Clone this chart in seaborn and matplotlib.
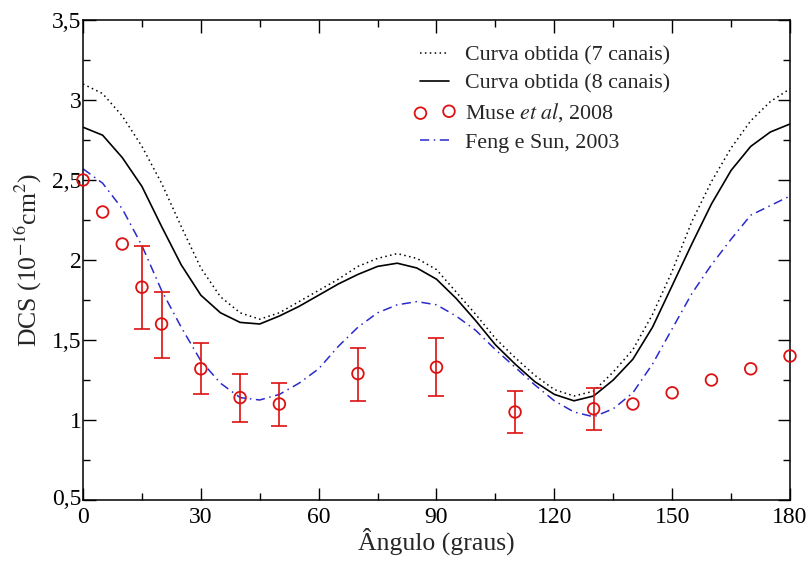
import numpy as np
import pandas as pd
import matplotlib
matplotlib.use("Agg")
import matplotlib.pyplot as plt
import matplotlib.transforms as mtransforms
import seaborn as sns
from matplotlib.ticker import MultipleLocator, FuncFormatter

# ---- data ----
angles = list(range(0, 181, 5))
curva7 = [3.10, 3.04, 2.90, 2.71, 2.48, 2.21, 1.95, 1.77, 1.67, 1.63, 1.67, 1.74, 1.81,
          1.88, 1.96, 2.01, 2.04, 2.01, 1.94, 1.80, 1.66, 1.51, 1.39, 1.28, 1.19, 1.15,
          1.18, 1.30, 1.44, 1.66, 1.93, 2.24, 2.49, 2.70, 2.87, 2.99, 3.07]
curva8 = [2.83, 2.78, 2.64, 2.46, 2.21, 1.97, 1.78, 1.67, 1.61, 1.60, 1.65, 1.71, 1.78,
          1.85, 1.91, 1.96, 1.98, 1.95, 1.88, 1.76, 1.62, 1.47, 1.35, 1.24, 1.16, 1.12,
          1.15, 1.25, 1.38, 1.58, 1.84, 2.10, 2.35, 2.56, 2.71, 2.80, 2.85]
feng = [2.57, 2.48, 2.32, 2.09, 1.81, 1.58, 1.37, 1.23, 1.14, 1.125, 1.16, 1.23, 1.32,
        1.46, 1.58, 1.67, 1.72, 1.74, 1.72, 1.65, 1.56, 1.44, 1.33, 1.22, 1.12, 1.05,
        1.02, 1.07, 1.17, 1.35, 1.57, 1.79, 1.97, 2.13, 2.28, 2.34, 2.40]

muse_ang = [0, 5, 10, 15, 20, 30, 40, 50, 70, 90, 110, 130, 140, 150, 160, 170, 180]
muse_val = [2.50, 2.30, 2.10, 1.83, 1.60, 1.32, 1.14, 1.10, 1.29, 1.33, 1.05, 1.07,
            1.10, 1.17, 1.25, 1.32, 1.40]
err_ang = [15, 20, 30, 40, 50, 70, 90, 110, 130]
err_val = [1.83, 1.60, 1.32, 1.14, 1.10, 1.29, 1.33, 1.05, 1.07]
err_lo = [0.26, 0.21, 0.16, 0.15, 0.14, 0.17, 0.18, 0.13, 0.13]
err_hi = [0.26, 0.20, 0.16, 0.15, 0.13, 0.16, 0.18, 0.13, 0.13]

labels = ["Curva obtida (7 canais)", "Curva obtida (8 canais)",
          r"Muse $\mathit{et\ al}$, 2008", "Feng e Sun, 2003"]
xticks = [0, 30, 60, 90, 120, 150, 180]
yticks = [0.5, 1.0, 1.5, 2.0, 2.5, 3.0, 3.5]

# ---- style ----
sns.set_style("ticks")
plt.rcParams["font.family"] = ["Liberation Serif", "DejaVu Serif"]
plt.rcParams["mathtext.fontset"] = "stix"

fig = plt.figure(figsize=(8.1, 5.61), dpi=100)
ax = fig.add_axes([83 / 810, 1 - 500 / 561, (790 - 83) / 810, (500 - 20) / 561])

df = pd.DataFrame({"ang": angles, "c7": curva7, "c8": curva8, "feng": feng})
red = "#dd1111"

sns.lineplot(data=df, x="ang", y="c7", ax=ax, color="black", lw=1.1,
             linestyle=(0, (1, 2.2)), label=labels[0])
sns.lineplot(data=df, x="ang", y="c8", ax=ax, color="black", lw=1.2,
             label=labels[1])
ax.errorbar(err_ang, err_val, yerr=[err_lo, err_hi], fmt="none", ecolor=red,
            elinewidth=1.2, capsize=6, capthick=1.2, zorder=3)
sns.scatterplot(x=muse_ang, y=muse_val, ax=ax, marker="o", s=70,
                facecolor="none", edgecolor=red, linewidth=1.3, zorder=4,
                clip_on=False, label=labels[2])
sns.lineplot(data=df, x="ang", y="feng", ax=ax, color="#2a2acc", lw=1.1,
             linestyle=(0, (6, 3, 1, 3)), label=labels[3])

ax.set_xlim(0, 180)
ax.set_ylim(0.5, 3.5)
ax.set_xticks(xticks)
ax.set_yticks(yticks)
ax.xaxis.set_minor_locator(MultipleLocator(15))
ax.yaxis.set_minor_locator(MultipleLocator(0.25))

def comma(v, pos):
    s = ("%g" % v)
    return s.replace(".", ",")

ax.yaxis.set_major_formatter(FuncFormatter(comma))
ax.tick_params(which="both", direction="in", top=True, right=True, labelsize=17,
               width=1.0, colors="black")
ax.tick_params(which="major", length=9)
ax.tick_params(which="minor", length=5)
ax.tick_params(axis="x", pad=5)
ax.tick_params(axis="y", pad=1)
for sp in ax.spines.values():
    sp.set_linewidth(1.1)
    sp.set_color("black")

# nudge the lowest y label up slightly so it does not collide with the x "0"
fig.canvas.draw()
ylabs = ax.get_yticklabels()
if ylabs:
    off = mtransforms.ScaledTranslation(0, 3 / 100, fig.dpi_scale_trans)
    ylabs[0].set_transform(ylabs[0].get_transform() + off)

ax.set_xlabel("Ângulo (graus)", fontsize=18.5, labelpad=0)
ax.set_ylabel(r"DCS (10$^{-16}$cm$^{2}$)", fontsize=18.5, labelpad=6)

leg = ax.legend(loc="upper left", bbox_to_anchor=(0.468, 0.948), frameon=False,
                fontsize=15.8, handlelength=1.9, handletextpad=0.45,
                labelspacing=0.36, numpoints=2, scatterpoints=2,
                borderaxespad=0, borderpad=0)

fig.savefig("out.png", dpi=100)
